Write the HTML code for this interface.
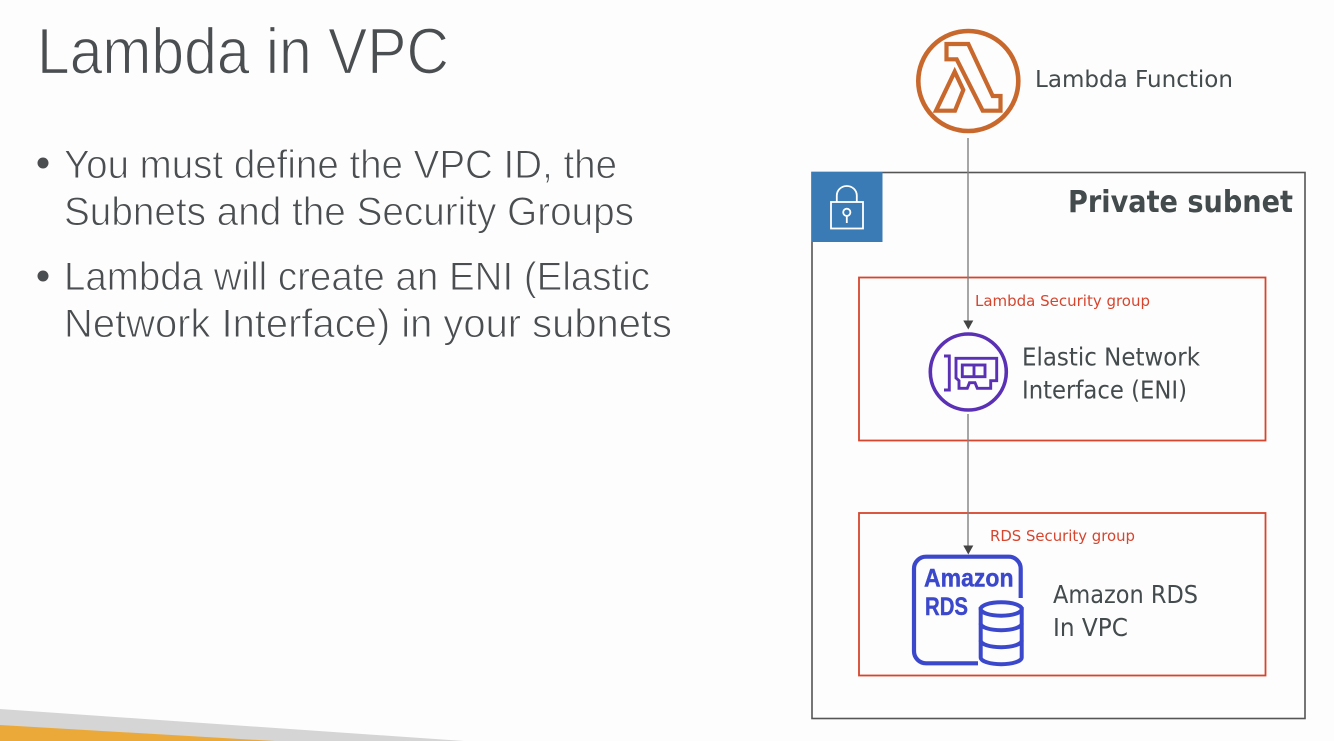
<!DOCTYPE html>
<html>
<head>
<meta charset="utf-8">
<style>
html,body{margin:0;padding:0;background:#fdfdfd;width:1334px;height:741px;overflow:hidden}
svg{display:block}
text{font-family:"Liberation Sans",sans-serif}
.d text,text.d{font-family:"DejaVu Sans",sans-serif}
.thin text{stroke:#fdfdfd}
</style>
</head>
<body>
<svg width="1334" height="741" viewBox="0 0 1334 741" xmlns="http://www.w3.org/2000/svg">
<rect width="1334" height="741" fill="#fdfdfd"/>
<polygon points="0,709 464,741 0,741" fill="#d5d5d5"/>
<polygon points="0,725 275,741 0,741" fill="#eba93a"/>

<g fill="#4a4e50" class="thin">
<text x="37" y="73.500" font-size="65" stroke-width="1.300" textLength="412" lengthAdjust="spacingAndGlyphs">Lambda in VPC</text>
<circle cx="43" cy="163" r="5.500"/>
<circle cx="43" cy="276" r="5.500"/>
<g font-size="40" stroke-width="0.900">
<text x="64" y="178" textLength="553" lengthAdjust="spacingAndGlyphs">You must define the VPC ID, the</text>
<text x="64" y="225" textLength="570" lengthAdjust="spacingAndGlyphs">Subnets and the Security Groups</text>
<text x="64" y="290" textLength="586" lengthAdjust="spacingAndGlyphs">Lambda will create an ENI (Elastic</text>
<text x="64" y="337" textLength="608" lengthAdjust="spacingAndGlyphs">Network Interface) in your subnets</text>
</g>
</g>

<!-- Private subnet -->
<rect x="812" y="172.500" width="493" height="546" fill="none" stroke="#555" stroke-width="1.600"/>
<rect x="811.500" y="172" width="71" height="70" fill="#3b7bb5"/>
<g fill="none" stroke="#fff" stroke-width="1.800">
<rect x="831" y="202" width="32" height="26.500"/>
<path d="M836.800 202V195.500a10 9.500 0 0 1 20 0V202"/>
<circle cx="846.800" cy="212.300" r="3.600"/>
<path d="M846.800 216V223"/>
</g>
<text class="d" x="1068" y="212" font-size="30" font-weight="bold" fill="#444b4d" textLength="225" lengthAdjust="spacingAndGlyphs">Private subnet</text>

<!-- Security groups -->
<rect x="859" y="277.500" width="406.500" height="163" fill="none" stroke="#d6452e" stroke-width="1.800"/>
<rect x="859" y="513" width="406.500" height="162.500" fill="none" stroke="#d6452e" stroke-width="1.800"/>
<g class="d" font-size="15" fill="#d6452e">
<text x="975" y="306" textLength="175" lengthAdjust="spacingAndGlyphs">Lambda Security group</text>
<text x="990" y="541" textLength="145" lengthAdjust="spacingAndGlyphs">RDS Security group</text>
</g>

<!-- Connectors -->
<path d="M968 138V322" stroke="#808080" stroke-width="1.400" fill="none"/>
<polygon points="963.300,320.500 973.300,320.500 968.300,329.500" fill="#444"/>
<path d="M968 414V547" stroke="#808080" stroke-width="1.400" fill="none"/>
<polygon points="963.300,545.500 973.300,545.500 968.300,554.500" fill="#444"/>

<!-- Lambda icon -->
<g fill="none" stroke="#c8682c" stroke-linejoin="miter">
<circle cx="968.300" cy="81" r="50" stroke-width="4.600"/>
<path stroke-width="4.200" d="M946.500 44H968.300L992.700 96H1000.500V110.700H982.700L956.700 59.300H946.500Z"/>
<path stroke-width="4.200" d="M954.700 71.700L936 110.700H955L963.300 90Z"/>
</g>

<g class="d" font-size="23" fill="#444b4d">
<text x="1035" y="87" textLength="198" lengthAdjust="spacingAndGlyphs">Lambda Function</text>
</g>

<!-- ENI icon -->
<circle cx="968.300" cy="372" r="38" fill="#fdfdfd" stroke="#5a30b5" stroke-width="3.600"/>
<g fill="none" stroke="#5a30b5" stroke-width="2.900">
<path d="M944 356H949.300V390H944"/>
<path d="M956 358.300H996.700V380.700H990.700V388.300H977.300L975 382.700H969.500L967.300 388.300H959V380.700L956 378Z"/>
<rect x="962.300" y="365" width="22.700" height="11.700"/>
<path d="M974 365V376.700"/>
</g>
<g class="d" font-size="25" fill="#444b4d">
<text x="1022" y="365.500" textLength="178" lengthAdjust="spacingAndGlyphs">Elastic Network</text>
<text x="1022" y="398.500" textLength="165" lengthAdjust="spacingAndGlyphs">Interface (ENI)</text>
<text x="1053" y="603" textLength="145" lengthAdjust="spacingAndGlyphs">Amazon RDS</text>
<text x="1053" y="636" textLength="75" lengthAdjust="spacingAndGlyphs">In VPC</text>
</g>

<!-- RDS icon -->
<path d="M1020.700 598V568.700a12 12 0 0 0-12-12H926a12 12 0 0 0-12 12V651.300a12 12 0 0 0 12 12H978" fill="none" stroke="#3b48cc" stroke-width="4.200"/>
<g font-size="25" font-weight="bold" fill="#3b48cc" stroke="#3b48cc" stroke-width="0.400">
<text x="924" y="586.700" textLength="89.500" lengthAdjust="spacingAndGlyphs">Amazon</text>
<text x="925" y="615" textLength="43" lengthAdjust="spacingAndGlyphs">RDS</text>
</g>
<g fill="#fdfdfd" stroke="#3b48cc" stroke-width="4">
<path d="M980.700 609V657.500c0 3.700 9.200 6.700 20.500 6.700s20.500-3 20.500-6.700V609Z"/>
<ellipse cx="1001.200" cy="609" rx="20.500" ry="6.700"/>
<path d="M980.700 623.500c0 3.700 9.200 6.700 20.500 6.700s20.500-3 20.500-6.700M980.700 640.500c0 3.700 9.200 6.700 20.500 6.700s20.500-3 20.500-6.700" fill="none"/>
</g>
</svg>
</body>
</html>
